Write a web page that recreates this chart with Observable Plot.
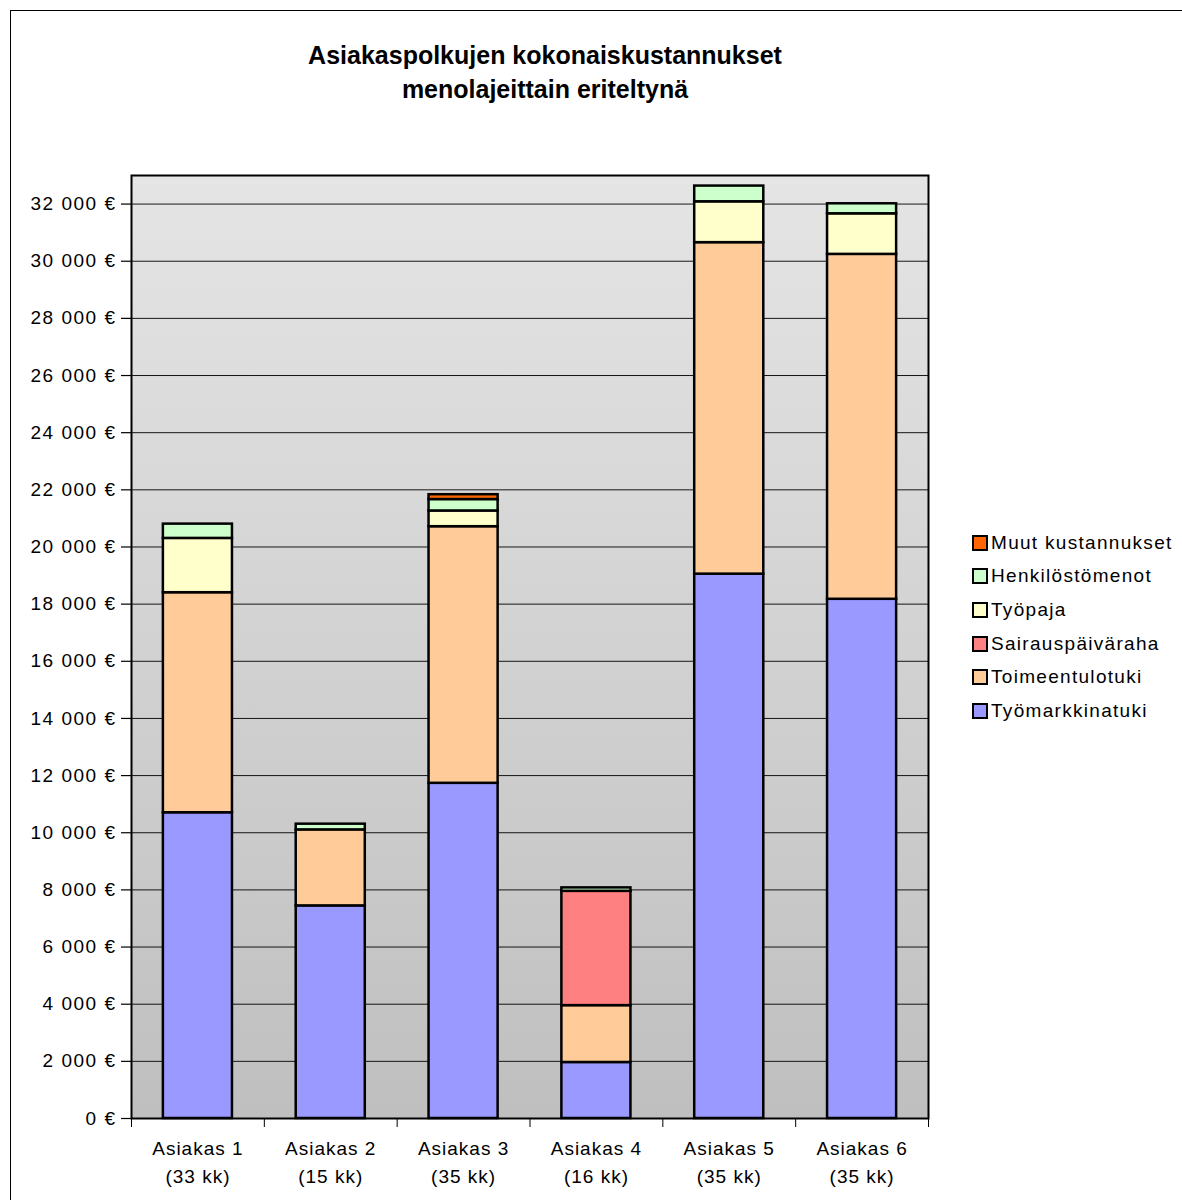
<!DOCTYPE html>
<html>
<head>
<meta charset="utf-8">
<script src="https://cdn.jsdelivr.net/npm/d3@7"></script>
<script src="https://cdn.jsdelivr.net/npm/@observablehq/plot@0.6"></script>
<style>
  body { margin: 0; background: #fff; font-family: "Liberation Sans", Arial, sans-serif; color: #000; }
  #chart { position: relative; width: 1182px; height: 1200px; overflow: hidden; }
  #border { position: absolute; left: 10px; top: 10px; width: 1250px; height: 1250px; border: 1px solid #000; }
  #title { position: absolute; left: 0; width: 1090px; top: 38px; text-align: center; font-weight: bold; font-size: 25px; line-height: 34px; }
  #legend { position: absolute; left: 972px; top: 526px; }
  .item { display: flex; align-items: center; height: 33.6px; font-size: 19px; letter-spacing: 1.3px; white-space: nowrap; }
  .sw { width: 12px; height: 12px; border: 2px solid #000; margin-right: 3px; flex: none; }
  #plot { position: absolute; left: 0; top: 0; }
  #plot g[aria-label="y-axis tick label"] text { letter-spacing: 1.5px; }
  #plot g[aria-label="x-axis tick label"] text { letter-spacing: 1px; }
</style>
</head>
<body>
<div id="chart">
  <div id="border"></div>
  <div id="title">Asiakaspolkujen kokonaiskustannukset<br>menolajeittain eriteltynä</div>
  <div id="plot"></div>
  <div id="legend"></div>
</div>
<script>
// Customers and the length of each customer path in months
const customers = ["Asiakas 1", "Asiakas 2", "Asiakas 3", "Asiakas 4", "Asiakas 5", "Asiakas 6"];
const months = [33, 15, 35, 16, 35, 35];

// Cost types, bottom of the stack first
const seriesNames = ["Työmarkkinatuki", "Toimeentulotuki", "Sairauspäiväraha", "Työpaja", "Henkilöstömenot", "Muut kustannukset"];
const seriesColors = ["#9999ff", "#ffcc99", "#ff8080", "#ffffcc", "#ccffcc", "#ff6600"];

// Costs per customer (€)
const tyomarkkinatuki = [10700, 7440, 11730, 1960, 19050, 18170];
const toimeentulotuki = [7700, 2660, 8980, 1990, 11600, 12070];
const sairauspaivaraha = [0, 0, 0, 4000, 0, 0];
const tyopaja = [1900, 0, 550, 0, 1430, 1420];
const henkilostomenot = [500, 200, 400, 120, 550, 350];
const muutKustannukset = [0, 0, 170, 0, 0, 0];

// Y axis ticks
const yTicks = d3.range(0, 32001, 2000);

const seriesValues = [tyomarkkinatuki, toimeentulotuki, sairauspaivaraha, tyopaja, henkilostomenot, muutKustannukset];
const rows = [];
customers.forEach((c, i) => {
  seriesNames.forEach((s, k) => {
    const v = seriesValues[k][i];
    if (v > 0) rows.push({customer: c, series: s, value: v});
  });
});

const fmtEuro = v => d3.format(",")(v).replace(/,/g, "\u00a0") + "\u00a0€";

const marginLeft = 131, marginRight = 254, width = 1182;
const step = (width - marginLeft - marginRight) / customers.length;

function gradientDefs() {
  const defs = document.createElementNS("http://www.w3.org/2000/svg", "defs");
  defs.innerHTML = '<linearGradient id="plotbg" x1="0" y1="0" x2="0" y2="1">' +
    '<stop offset="0" stop-color="#e5e5e5"/><stop offset="1" stop-color="#bfbfbf"/></linearGradient>';
  return defs;
}

const chart = Plot.plot({
  width,
  height: 1200,
  marginLeft,
  marginRight,
  marginTop: 175,
  marginBottom: 82,
  style: {fontFamily: '"Liberation Sans", Arial, sans-serif', fontSize: "19px", background: "transparent", color: "#000", overflow: "visible"},
  x: {domain: customers, paddingInner: 0.48, paddingOuter: 0.24, round: false, axis: null},
  y: {domain: [0, 33000], axis: null},
  color: {domain: seriesNames, range: seriesColors},
  marks: [
    gradientDefs,
    Plot.frame({fill: "url(#plotbg)"}),
    Plot.gridY({ticks: yTicks.filter(v => v > 0), stroke: "#000", strokeOpacity: 0.9, strokeWidth: 1}),
    Plot.barY(rows, Plot.stackY({
      order: seriesNames,
      x: "customer",
      y: "value",
      fill: "series",
      stroke: "#000",
      strokeWidth: 2.5
    })),
    Plot.frame({stroke: "#000", strokeWidth: 2}),
    Plot.axisY({ticks: yTicks, tickFormat: fmtEuro, tickSize: 10, tickPadding: 5, strokeWidth: 1.2, label: null, fontSize: 19}),
    // Category boundary ticks
    Plot.axisX({tickFormat: () => "", tickSize: 9, dx: -step / 2, label: null}),
    Plot.axisX({ticks: [customers[customers.length - 1]], tickFormat: () => "", tickSize: 9, dx: step / 2, label: null}),
    // Category labels
    Plot.axisX({
      tickSize: 0,
      tickPadding: 17,
      lineHeight: 1.47,
      fontSize: 19,
      label: null,
      tickFormat: d => `${d}\n(${months[customers.indexOf(d)]} kk)`
    })
  ]
});
document.getElementById("plot").appendChild(chart);

// Legend, top of the stack first
const legend = document.getElementById("legend");
seriesNames.slice().reverse().forEach(name => {
  const item = document.createElement("div");
  item.className = "item";
  const sw = document.createElement("span");
  sw.className = "sw";
  sw.style.background = seriesColors[seriesNames.indexOf(name)];
  item.appendChild(sw);
  item.appendChild(document.createTextNode(name));
  legend.appendChild(item);
});
</script>
</body>
</html>
